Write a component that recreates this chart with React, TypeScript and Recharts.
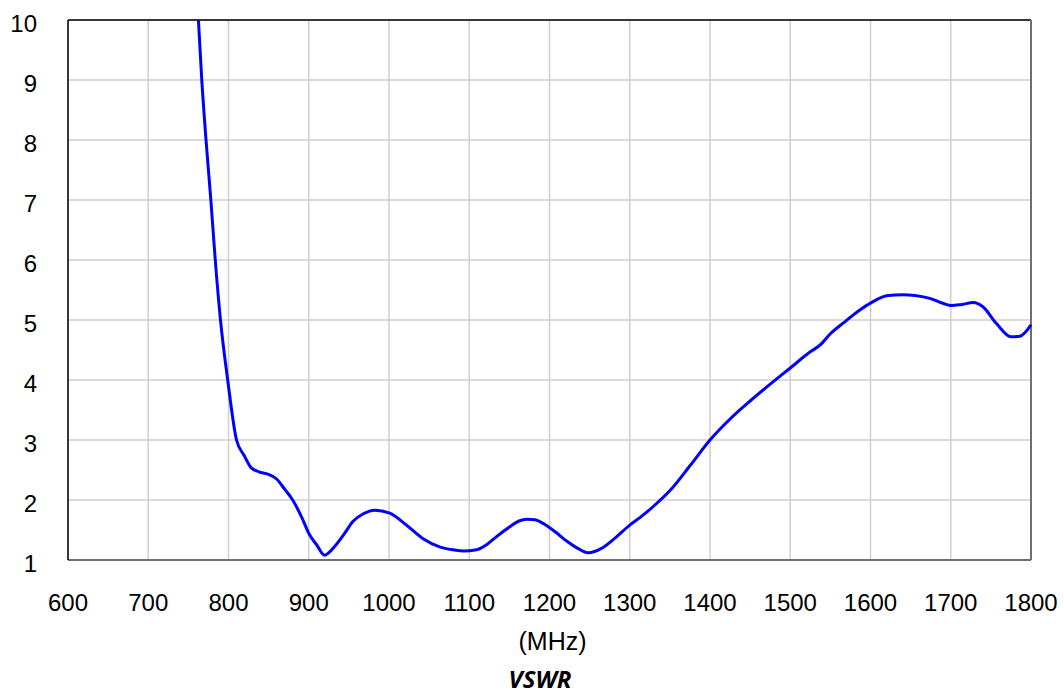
import React from "react";
import {
  LineChart,
  Line,
  XAxis,
  YAxis,
  CartesianGrid,
  ReferenceLine,
} from "recharts";

const frequencies = [
  762.5, 766.7, 772, 778, 783.5, 790, 799, 810, 820, 828, 838, 849, 860, 870,
  880, 891, 901, 910, 919.6, 932, 944, 955, 968, 982, 1001, 1020, 1042, 1063,
  1080, 1093, 1109, 1122, 1134, 1150, 1162, 1172, 1182, 1192, 1207, 1222, 1237,
  1249, 1263, 1282, 1300, 1313, 1330, 1351, 1375, 1400, 1425, 1450, 1475, 1500,
  1525, 1537, 1550, 1568, 1585, 1601, 1622, 1640, 1655, 1674, 1690, 1701, 1714,
  1728, 1740, 1757, 1775, 1786, 1800,
];

const vswr = [
  10, 9, 8, 7, 6, 5, 4, 3, 2.73, 2.54, 2.47, 2.43, 2.35, 2.18, 2.0, 1.72, 1.42,
  1.25, 1.08, 1.22, 1.43, 1.64, 1.77, 1.83, 1.78, 1.6, 1.36, 1.22, 1.17, 1.15,
  1.17, 1.26, 1.39, 1.55, 1.65, 1.68, 1.67, 1.61, 1.47, 1.31, 1.18, 1.12, 1.18,
  1.37, 1.58, 1.71, 1.9, 2.17, 2.57, 3.0, 3.35, 3.65, 3.93, 4.2, 4.47, 4.58,
  4.77, 4.97, 5.15, 5.29, 5.41, 5.42, 5.41, 5.36, 5.28, 5.24, 5.26, 5.29, 5.22,
  4.94, 4.72, 4.73, 4.92,
];

const xTicks = [600, 700, 800, 900, 1000, 1100, 1200, 1300, 1400, 1500, 1600, 1700, 1800];
const yTicks = [1, 2, 3, 4, 5, 6, 7, 8, 9, 10];

const xAxisLabel = "(MHz)";
const chartTitle = "VSWR";

const data = frequencies.map((f, i) => ({ f, v: vswr[i] }));

const FONT = "'Liberation Sans', Arial, sans-serif";

export default function App() {
  return (
    <div
      style={{
        position: "absolute",
        left: 0,
        top: 0,
        width: 1064,
        height: 692,
        background: "#fff",
      }}
    >
      <LineChart
        width={1064}
        height={692}
        data={data}
        margin={{ top: 20, right: 33, bottom: 131, left: 0 }}
      >
        <CartesianGrid stroke="#cfcfcf" strokeWidth={1.5} />
        <XAxis
          dataKey="f"
          type="number"
          domain={[600, 1800]}
          ticks={xTicks}
          interval={0}
          height={1}
          tickLine={false}
          tickSize={0}
          tickMargin={34}
          axisLine={{ stroke: "#6f6f6f", strokeWidth: 2 }}
          tick={{ fill: "#000", fontSize: 24, fontFamily: FONT }}
        />
        <YAxis
          type="number"
          domain={[1, 10]}
          ticks={yTicks}
          interval={0}
          width={68}
          tickLine={false}
          tickSize={0}
          tickMargin={31}
          axisLine={{ stroke: "#000", strokeWidth: 1.5 }}
          tick={{ fill: "#000", fontSize: 24, fontFamily: FONT, dy: 3 }}
        />
        <ReferenceLine y={10} stroke="#000" strokeWidth={1.5} />
        <ReferenceLine x={1800} stroke="#6f6f6f" strokeWidth={2} />
        <Line
          dataKey="v"
          type="monotone"
          stroke="#0000ff"
          strokeWidth={3}
          dot={false}
          isAnimationActive={false}
        />
      </LineChart>
      <div
        style={{
          position: "absolute",
          left: 0,
          top: 626,
          width: 1105,
          textAlign: "center",
          fontFamily: FONT,
          fontSize: 25,
          lineHeight: "30px",
          color: "#000",
        }}
      >
        {xAxisLabel}
      </div>
      <div
        style={{
          position: "absolute",
          left: 0,
          top: 664,
          width: 1080,
          textAlign: "center",
          fontFamily: "'Open Sans', sans-serif",
          fontSize: 24,
          fontWeight: 700,
          fontStyle: "italic",
          lineHeight: "30px",
          color: "#000",
        }}
      >
        {chartTitle}
      </div>
    </div>
  );
}
